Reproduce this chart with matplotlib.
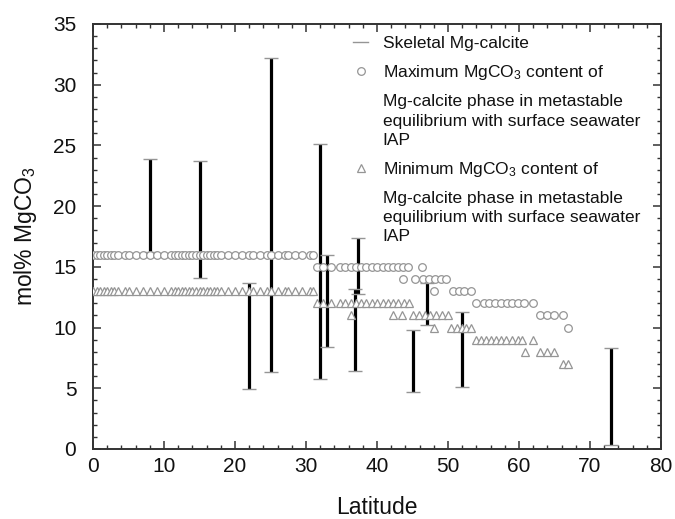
import numpy as np
import matplotlib
matplotlib.use("Agg")
import matplotlib.pyplot as plt
from matplotlib.lines import Line2D
from matplotlib.ticker import MultipleLocator

plt.rcParams['font.family'] = ['Liberation Sans', 'DejaVu Sans']
plt.rcParams['mathtext.fontset'] = 'custom'
plt.rcParams['mathtext.rm'] = 'Liberation Sans'
plt.rcParams['mathtext.it'] = 'Liberation Sans:italic'

# skeletal Mg-calcite ranges (latitude, min, max mol% MgCO3)
bar_lat = [8, 15, 22, 25, 32, 33, 36.9, 37.3, 45, 47, 52, 73]
bar_low = [16.2, 14.1, 4.9, 6.3, 5.8, 8.4, 6.4, 12.8, 4.7, 10.2, 5.1, 0.3]
bar_high = [23.9, 23.7, 13.7, 32.2, 25.1, 16.0, 13.2, 17.4, 9.8, 13.65, 11.3, 8.3]

# maximum MgCO3 content (circles)
max_lat = [0, 0.5, 1, 1.5, 2, 2.5, 3, 3.5, 4.5, 5, 6, 7, 8, 9, 10, 11, 11.5, 12,
           12.5, 13, 13.5, 14, 14.5, 15, 15.5, 16, 16.5, 17, 17.5, 18, 19, 20,
           21, 22, 22.5, 23.5, 24.5, 25, 26, 27, 27.5, 28.5, 29.5, 30.5, 31,
           31.5, 32.4, 33.5, 34.8, 35.5, 36.3, 37, 37.8, 38.5, 39.3, 40, 40.8,
           41.5, 42.3, 43, 43.7, 44.4, 46.3,
           43.6, 45.3, 46.5, 47.3, 48.2, 49.0, 49.7,
           48.0, 50.7, 51.5, 52.3, 53.2,
           54.0, 55.0, 55.8, 56.6, 57.5, 58.3, 59.0, 59.8, 60.7, 62.0,
           62.9, 63.9, 64.9, 66.2,
           66.9]
max_val = [16] * 45 + [15] * 18 + [14] * 7 + [13] * 5 + [12] * 10 + [11] * 4 + [10]

# minimum MgCO3 content (triangles)
min_lat = [0, 0.5, 1, 1.5, 2, 2.5, 3, 3.5, 4.5, 5, 6, 7, 8, 9, 10, 11, 11.5, 12,
           12.5, 13, 13.5, 14, 14.5, 15, 15.5, 16, 16.5, 17, 17.5, 18, 19, 20,
           21, 22, 22.5, 23.5, 24.5, 25, 26, 27, 27.5, 28.5, 29.5, 30.5, 31,
           31.5, 32.4, 33.5, 34.8, 35.5, 36.3, 37, 37.8, 38.5, 39.3, 40, 40.8,
           41.5, 42.3, 43, 43.8, 44.5,
           36.3, 42.3, 43.5, 45.1, 45.9, 46.7, 47.5, 48.3, 49.2, 50.0,
           48.0, 50.4, 51.2, 52.0, 52.6, 53.2,
           54.0, 54.7, 55.4, 56.0, 56.8, 57.5, 58.2, 59.0, 59.8, 60.4, 61.9,
           60.9, 62.9, 63.9, 64.9,
           66.2, 66.9]
min_val = [13] * 45 + [12] * 17 + [11] * 10 + [10] * 6 + [9] * 11 + [8] * 4 + [7] * 2

gray = '#959595'

fig = plt.figure(figsize=(6.75, 5.19), dpi=100)
ax = fig.add_axes([0.1378, 0.1349, 0.8415, 0.8189])

low = np.array(bar_low)
high = np.array(bar_high)
eb = ax.errorbar(bar_lat, low, yerr=[np.zeros(len(low)), high - low], fmt='none',
                 ecolor='black', elinewidth=2.3, capsize=4.8, capthick=1, zorder=2)
for cap in eb[1]:
    cap.set_markeredgecolor(gray)

ax.plot(max_lat, max_val, 'o', ms=5.5, mfc='white', mec=gray, mew=0.9, zorder=3)
ax.plot(min_lat, min_val, '^', ms=5.8, mfc='white', mec=gray, mew=0.9, zorder=3)

ax.set_xlim(0, 80)
ax.set_ylim(0, 35)
ax.xaxis.set_major_locator(MultipleLocator(10))
ax.xaxis.set_minor_locator(MultipleLocator(2))
ax.yaxis.set_major_locator(MultipleLocator(5))
ax.yaxis.set_minor_locator(MultipleLocator(1))
ax.tick_params(which='both', direction='in', top=True, right=True, colors='#333333',
               labelcolor='#111111', labelsize=15)
ax.tick_params(which='major', length=5.5, width=1.1)
ax.tick_params(which='minor', length=3, width=1)
ax.tick_params(axis='x', pad=6)
ax.tick_params(axis='y', pad=12)
for s in ax.spines.values():
    s.set_color('#333333')
    s.set_linewidth(1.4)

ax.set_xlabel('Latitude', fontsize=16.5, labelpad=14, color='#111111')
ax.set_ylabel('mol% MgCO$_3$', fontsize=16.5, labelpad=10, color='#111111')

handles = [Line2D([], [], color=gray, lw=1),
           Line2D([], [], ls='none', marker='o', ms=5.5, mfc='white', mec=gray, mew=0.9),
           Line2D([], [], ls='none'),
           Line2D([], [], ls='none', marker='^', ms=5.8, mfc='white', mec=gray, mew=0.9),
           Line2D([], [], ls='none')]
labels = ['Skeletal Mg-calcite',
          'Maximum MgCO$_3$ content of',
          'Mg-calcite phase in metastable\nequilibrium with surface seawater\nIAP',
          'Minimum MgCO$_3$ content of',
          'Mg-calcite phase in metastable\nequilibrium with surface seawater\nIAP']
leg = ax.legend(handles, labels, loc='upper left', bbox_to_anchor=(0.458, 0.972),
                frameon=False, fontsize=12.5, borderpad=0, borderaxespad=0,
                handlelength=0.85, handletextpad=0.85, labelspacing=0.7, numpoints=1)
for t in leg.get_texts():
    t.set_linespacing(1.35)
    t.set_color('#111111')

fig.savefig('out.png', dpi=100)
